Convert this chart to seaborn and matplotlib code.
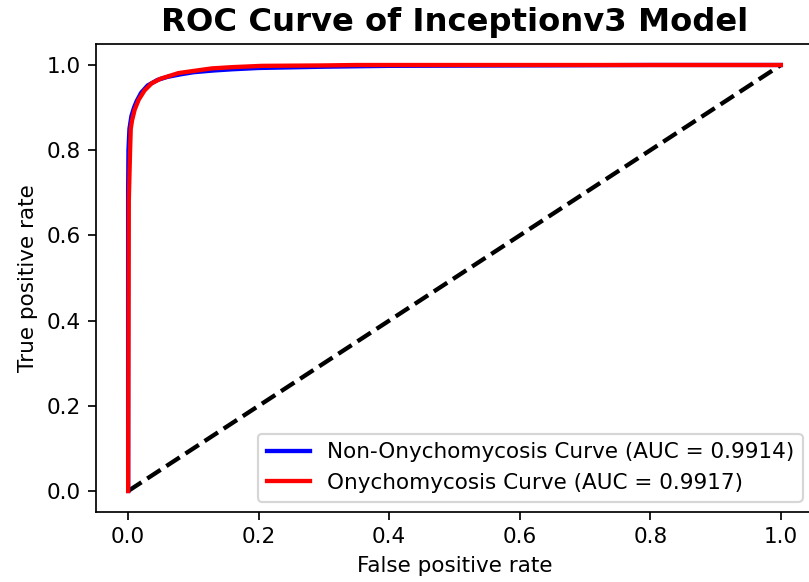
import numpy as np
import pandas as pd
import matplotlib
matplotlib.use("Agg")
import matplotlib.pyplot as plt
import seaborn as sns

# ROC points
non_fpr = [0, 0, 0.0005, 0.002, 0.005, 0.009, 0.013, 0.02, 0.03, 0.045, 0.06, 0.08,
           0.1, 0.13, 0.16, 0.2, 0.3, 0.4, 0.6, 0.8, 1.0]
non_tpr = [0, 0.70, 0.80, 0.85, 0.88, 0.90, 0.915, 0.935, 0.952, 0.965, 0.972, 0.978,
           0.983, 0.987, 0.990, 0.993, 0.996, 0.998, 0.999, 1.0, 1.0]
ony_fpr = [0, 0.001, 0.003, 0.004, 0.006, 0.01, 0.016, 0.025, 0.036, 0.05, 0.077, 0.1,
           0.128, 0.16, 0.205, 0.3, 0.35, 0.6, 1.0]
ony_tpr = [0, 0.68, 0.80, 0.85, 0.87, 0.895, 0.918, 0.94, 0.957, 0.968, 0.981, 0.986,
           0.992, 0.995, 0.998, 0.999, 1.0, 1.0, 1.0]
non_auc = 0.9914
ony_auc = 0.9917


def main():
    # 809x582 px at dpi 155
    fig = plt.figure(figsize=(809 / 155, 582 / 155), dpi=155)
    ax = fig.add_axes([95.5 / 809, 1 - 512.3 / 582, 718 / 809, 468.6 / 582])

    ax.plot([0, 1], [0, 1], "k--", lw=2)
    non = pd.DataFrame({"fpr": non_fpr, "tpr": non_tpr})
    ony = pd.DataFrame({"fpr": ony_fpr, "tpr": ony_tpr})
    sns.lineplot(data=non, x="fpr", y="tpr", sort=False, estimator=None, color="blue",
                 lw=2, label=f"Non-Onychomycosis Curve (AUC = {non_auc})", ax=ax)
    sns.lineplot(data=ony, x="fpr", y="tpr", sort=False, estimator=None, color="red",
                 lw=2, label=f"Onychomycosis Curve (AUC = {ony_auc})", ax=ax)

    ax.set_xlim(-0.05, 1.05)
    ax.set_ylim(-0.05, 1.05)
    ax.set_xlabel("False positive rate")
    ax.set_ylabel("True positive rate")
    ax.set_title("ROC Curve of Inceptionv3 Model", fontsize=15, fontweight="bold")
    ax.legend(loc="lower right")

    fig.savefig("out.png", dpi=155)


if __name__ == '__main__':
    main()
